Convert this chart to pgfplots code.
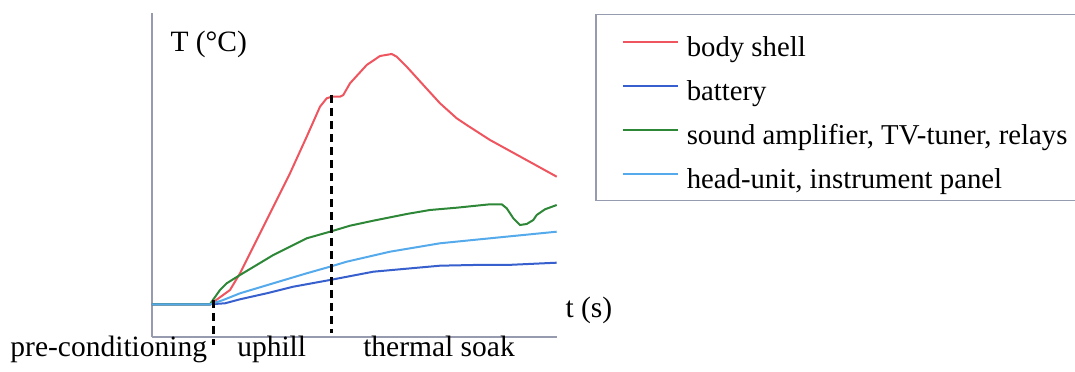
\documentclass[border=0pt]{standalone}
\usepackage{fontspec}
\setmainfont{Liberation Serif}
\usepackage{pgfplots}
\pgfplotsset{compat=1.18}
\definecolor{cred}{RGB}{238,85,95}
\definecolor{cdblue}{RGB}{55,95,205}
\definecolor{cgreen}{RGB}{45,135,55}
\definecolor{clblue}{RGB}{85,170,235}
\definecolor{axgray}{RGB}{150,155,175}
\begin{document}
\fontsize{11.8}{14}\selectfont\rmfamily
\begin{tikzpicture}
\useasboundingbox (-60.8pt,-14pt) rectangle (369.2pt,134.8pt);
\begin{axis}[
  at={(0pt,0pt)}, anchor=south west,
  scale only axis, width=162pt, height=129.6pt,
  xmin=152, xmax=557, ymin=0, ymax=324,
  axis lines=left,
  axis line style={-, draw=axgray, line width=0.6pt},
  xtick=\empty, ytick=\empty,
  clip=false,
  every axis plot/.append style={line width=0.8pt},
  legend image code/.code={\path (-8.4pt,0pt); \draw[#1,line width=0.8pt] (0pt,0pt) -- (22pt,0pt);},
  legend cell align=left,
  legend style={at={(1.0938,0.9969)}, anchor=north west,
    draw=axgray, line width=0.6pt, font=\fontsize{11.5}{14}\selectfont\rmfamily,
    inner xsep=2pt, inner ysep=2.8pt, row sep=1.6pt, column sep=1.2pt,
    nodes={inner sep=2pt, text height=11.8pt, text depth=0.2pt}},
]
\addplot[cred] coordinates {(152,32.7)(210,32.7)(211.7,33.7)(230,47)(240,63.7)(256.7,97)(273.3,130.3)(290,163.7)(306.7,200.3)(320,230.3)(326.7,238.7)(331.7,240.3)(340,240.3)(343.3,242)(350,253.7)(366.7,272)(380,281)(391.7,283)(396.7,280.3)(406.7,270.3)(423.3,252)(440,233.7)(456.7,218.7)(466.7,212)(490,197)(523.3,178.7)(556.7,160.3)};
\addlegendentry{body shell}
\addplot[cdblue] coordinates {(152,32.7)(210,32.7)(225,33.7)(240,37.7)(266.7,43.7)(293.3,50.3)(330,57)(373.3,65.3)(440,71.3)(473.3,72)(506.7,72)(556.7,74.3)};
\addlegendentry{battery}
\addplot[cgreen] coordinates {(152,32.7)(210,32.7)(211.7,35.3)(220,47)(226.7,53.7)(240,62)(256.7,72)(273.3,82)(290,90.3)(306.7,98.7)(330,105.3)(350,111.3)(373.3,116.3)(406.7,123)(430,127)(456.7,129.3)(490,132.7)(501.7,132.7)(506.7,128.7)(513.3,118.7)(520,112)(526.7,113)(533.3,117)(536.7,122)(545,127.7)(556.7,132)};
\addlegendentry{sound amplifier, TV-tuner, relays}
\addplot[clblue] coordinates {(152,32.7)(210,32.7)(223.3,37)(240,43.7)(273.3,53.7)(306.7,63.7)(330,70.3)(346.7,75.3)(390,85.3)(440,93.7)(490,98.7)(556.7,105.3)};
\addlegendentry{head-unit, instrument panel}
\addplot[black, line width=1.2pt, dash pattern=on 3.2pt off 2pt, forget plot] coordinates {(213,37)(213,-8)};
\addplot[black, line width=1.2pt, dash pattern=on 3.2pt off 2pt, forget plot] coordinates {(331,242)(331,4)};
\end{axis}
\node[anchor=base west, inner sep=0pt] at (7.2pt,114pt) {T (°C)};
\node[anchor=base west, inner sep=0pt] at (165.2pt,7.6pt) {t (s)};
\node[anchor=base west, inner sep=0pt] at (-56.8pt,-7.9pt) {pre-conditioning};
\node[anchor=base west, inner sep=0pt] at (33.9pt,-7.9pt) {uphill};
\node[anchor=base west, inner sep=0pt] at (84.3pt,-7.9pt) {thermal soak};
\end{tikzpicture}
\end{document}
